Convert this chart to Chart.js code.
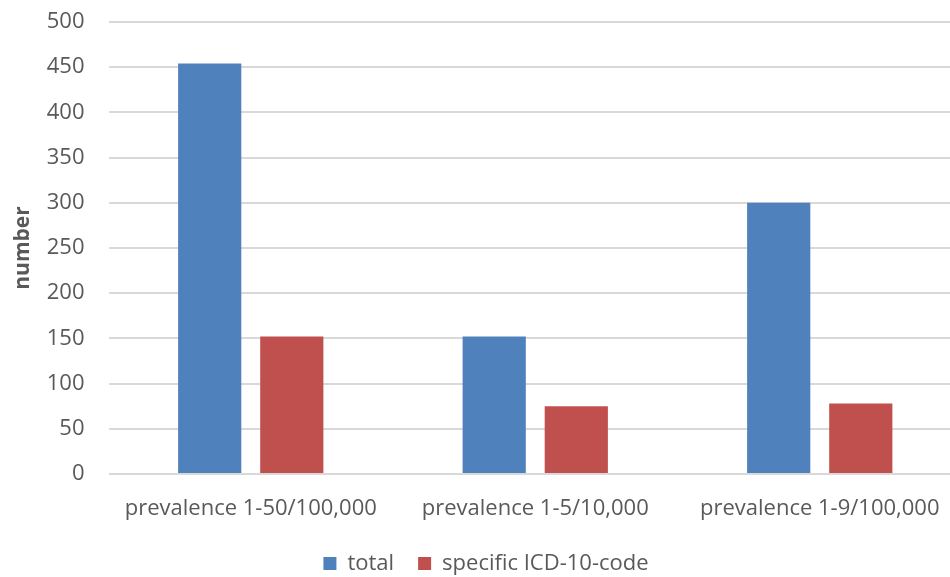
<!DOCTYPE html>
<html>
<head>
<meta charset="utf-8">
<script src="https://cdn.jsdelivr.net/npm/chart.js@4/dist/chart.umd.min.js"></script>
<style>
  html, body { margin: 0; padding: 0; background: #ffffff; overflow: hidden; }
  canvas { display: block; }
</style>
</head>
<body>
<canvas id="chart" width="962" height="577"></canvas>
<script>
// Prevalence groups on the x axis
const categories = ['prevalence 1-50/100,000', 'prevalence 1-5/10,000', 'prevalence 1-9/100,000'];
// Number of diseases per group
const totalValues = [454, 152, 300];
const specificValues = [152, 75, 78];
const yTicks = [0, 50, 100, 150, 200, 250, 300, 350, 400, 450, 500];

const textColor = '#595959';
const gridColor = '#d9d9d9';
const fontFamily = "'Open Sans', 'Liberation Sans', sans-serif";

new Chart(document.getElementById('chart'), {
  type: 'bar',
  data: {
    labels: categories,
    datasets: [
      { label: 'total', data: totalValues, backgroundColor: '#4f81bd', borderWidth: 0 },
      { label: 'specific ICD-10-code', data: specificValues, backgroundColor: '#c0504d', borderWidth: 0 }
    ]
  },
  options: {
    responsive: false,
    animation: false,
    datasets: { bar: { categoryPercentage: 0.577, barPercentage: 0.77 } },
    layout: { padding: { top: 22, left: 10, right: 0, bottom: -7.4 } },
    plugins: {
      tooltip: { enabled: false },
      legend: {
        position: 'bottom',
        labels: {
          color: textColor,
          font: { family: fontFamily, size: 22 },
          boxWidth: 13,
          boxHeight: 13,
          padding: 24
        }
      }
    },
    scales: {
      x: {
        grid: { display: false, drawTicks: true, tickLength: 16 },
        border: { display: false },
        ticks: {
          color: textColor,
          font: { family: fontFamily, size: 22 },
          padding: 6,
          maxRotation: 0
        }
      },
      y: {
        min: 0,
        max: 500,
        afterFit: (scale) => {
          scale.width = 98.5;
          scale.paddingTop = 0;
          scale.paddingBottom = 0;
        },
        afterBuildTicks: (scale) => { scale.ticks = yTicks.map(v => ({ value: v })); },
        grid: { color: gridColor, lineWidth: 2, drawTicks: false },
        border: { display: false },
        ticks: {
          color: textColor,
          font: { family: fontFamily, size: 22 },
          padding: 24
        },
        title: {
          display: true,
          text: 'number',
          color: textColor,
          font: { family: fontFamily, size: 21, weight: 'bold' },
          padding: 0
        }
      }
    }
  }
});
</script>
</body>
</html>
